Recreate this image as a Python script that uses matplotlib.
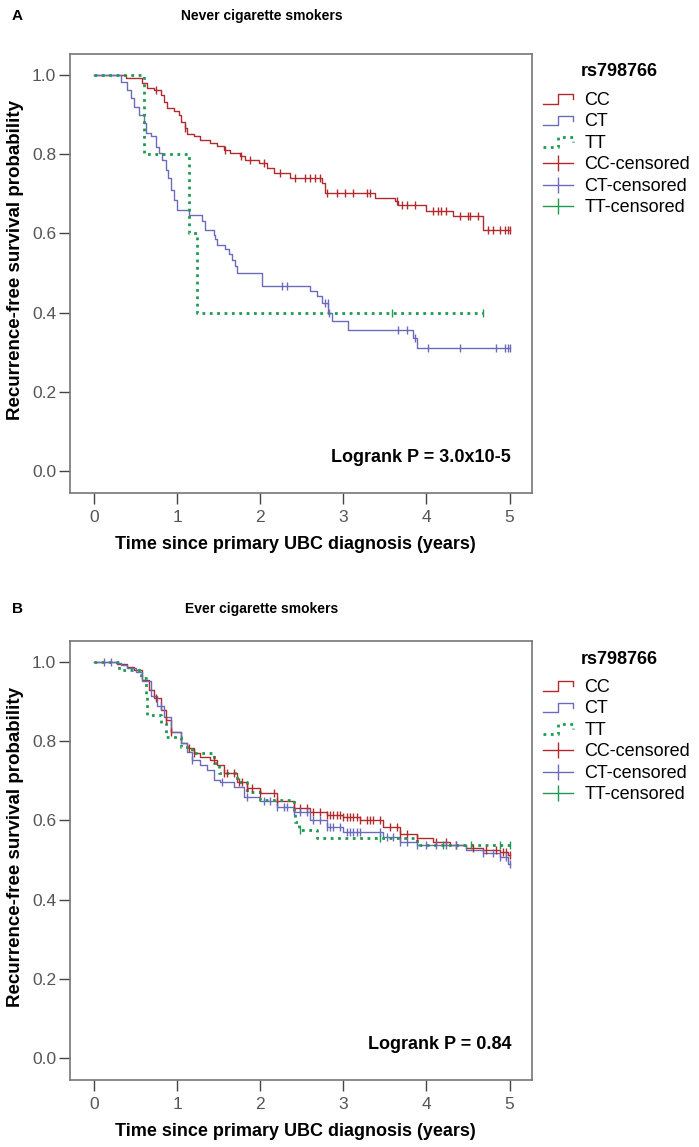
import numpy as np
import matplotlib.pyplot as plt
from matplotlib.lines import Line2D
from matplotlib.legend_handler import HandlerBase

plt.rcParams['font.family'] = ['Liberation Sans', 'DejaVu Sans']

# ---- data ----
groups = ['CC', 'CT', 'TT']
colors = ['#b02a2e', '#6b6bbb', '#1f9a50']

# panel A: never smokers  (drop times, survival after drop, censor times)
a_cc_t = [0.38, 0.58, 0.64, 0.72, 0.80, 0.84, 0.88, 0.96, 1.02, 1.05, 1.09, 1.12, 1.20, 1.28,
          1.40, 1.48, 1.56, 1.64, 1.76, 1.82, 1.98, 2.08, 2.16, 2.36, 2.74, 2.78, 3.38, 3.62,
          3.66, 4.00, 4.32, 4.68]
a_cc_s = [0.992, 0.979, 0.966, 0.962, 0.950, 0.933, 0.916, 0.908, 0.899, 0.882, 0.866, 0.851,
          0.845, 0.836, 0.828, 0.821, 0.811, 0.803, 0.796, 0.786, 0.777, 0.765, 0.752, 0.740,
          0.727, 0.702, 0.689, 0.681, 0.671, 0.658, 0.643, 0.609]
a_cc_c = [0.74, 1.09, 1.58, 1.77, 1.88, 2.04, 2.24, 2.42, 2.54, 2.60, 2.66, 2.72, 2.80, 2.92,
          3.02, 3.12, 3.28, 3.32, 3.64, 3.70, 3.76, 3.86, 4.08, 4.14, 4.18, 4.24, 4.40, 4.50,
          4.52, 4.62, 4.74, 4.80, 4.88, 4.94, 4.98, 5.00]
a_ct_t = [0.32, 0.40, 0.44, 0.48, 0.54, 0.60, 0.62, 0.68, 0.74, 0.78, 0.82, 0.86, 0.89, 0.92,
          0.96, 1.00, 1.14, 1.30, 1.33, 1.44, 1.46, 1.48, 1.58, 1.62, 1.66, 1.70, 1.72, 2.02,
          2.60, 2.68, 2.74, 2.82, 2.86, 3.06, 3.84, 3.88]
a_ct_s = [0.983, 0.962, 0.941, 0.920, 0.899, 0.878, 0.853, 0.845, 0.819, 0.803, 0.786, 0.761,
          0.740, 0.710, 0.685, 0.660, 0.647, 0.631, 0.610, 0.597, 0.585, 0.572, 0.560, 0.547,
          0.534, 0.517, 0.501, 0.467, 0.454, 0.441, 0.425, 0.400, 0.379, 0.357, 0.337, 0.312]
a_ct_c = [2.26, 2.32, 2.78, 2.81, 2.83, 3.66, 3.76, 3.86, 4.02, 4.40, 4.84, 4.94, 4.98, 5.00]
a_tt_t = [0.60, 1.14, 1.24]
a_tt_s = [0.80, 0.60, 0.40]
a_tt_c = [3.58, 4.68]

# panel B: ever smokers
b_cc_t = [0.28, 0.40, 0.48, 0.58, 0.66, 0.72, 0.80, 0.86, 0.92, 1.04, 1.12, 1.20, 1.28, 1.40,
          1.48, 1.56, 1.72, 1.84, 2.00, 2.20, 2.40, 2.60, 2.80, 3.00, 3.20, 3.48, 3.68, 3.88,
          4.08, 4.28, 4.48, 4.68, 4.88, 4.98]
b_cc_s = [0.996, 0.988, 0.980, 0.955, 0.929, 0.908, 0.879, 0.854, 0.824, 0.795, 0.782, 0.770,
          0.761, 0.753, 0.740, 0.719, 0.698, 0.681, 0.669, 0.648, 0.631, 0.622, 0.614, 0.608,
          0.601, 0.584, 0.567, 0.555, 0.546, 0.538, 0.530, 0.525, 0.521, 0.513]
b_cc_c = [0.74, 0.86, 0.92, 1.14, 1.20, 1.44, 1.56, 1.60, 1.68, 1.74, 1.78, 1.84, 1.90, 2.00,
          2.16, 2.20, 2.40, 2.48, 2.56, 2.64, 2.72, 2.80, 2.84, 2.88, 2.92, 2.96, 3.00, 3.04,
          3.08, 3.12, 3.16, 3.20, 3.28, 3.32, 3.36, 3.44, 3.56, 3.64, 3.68, 3.76, 3.88, 4.12,
          4.24, 4.36, 4.56, 4.72, 4.84, 4.92, 4.96, 5.00]
b_ct_t = [0.26, 0.32, 0.40, 0.50, 0.58, 0.68, 0.76, 0.84, 0.92, 1.04, 1.12, 1.18, 1.28, 1.36,
          1.44, 1.52, 1.68, 1.80, 2.00, 2.20, 2.40, 2.60, 2.80, 3.00, 3.48, 3.68, 3.88, 4.48,
          4.68, 4.88, 4.98]
b_ct_s = [0.998, 0.993, 0.984, 0.976, 0.951, 0.913, 0.888, 0.862, 0.824, 0.795, 0.774, 0.753,
          0.740, 0.728, 0.702, 0.696, 0.685, 0.660, 0.648, 0.635, 0.622, 0.601, 0.584, 0.572,
          0.559, 0.546, 0.538, 0.525, 0.517, 0.508, 0.491]
b_ct_c = [0.12, 0.20, 0.80, 1.18, 1.54, 1.84, 2.04, 2.12, 2.20, 2.28, 2.32, 2.40, 2.48, 2.56,
          2.64, 2.72, 2.80, 2.84, 2.88, 2.96, 3.04, 3.08, 3.12, 3.16, 3.20, 3.44, 3.52, 3.60,
          3.68, 3.76, 3.88, 4.00, 4.12, 4.24, 4.36, 4.68, 4.80, 4.88, 4.96, 5.00]
b_tt_t = [0.30, 0.56, 0.62, 0.64, 0.80, 0.86, 1.04, 1.18, 1.44, 1.50, 1.72, 1.84, 2.00, 2.40,
          2.42, 2.46, 2.68, 3.88]
b_tt_s = [0.980, 0.959, 0.913, 0.866, 0.845, 0.811, 0.786, 0.770, 0.744, 0.719, 0.698, 0.673,
          0.652, 0.618, 0.597, 0.576, 0.557, 0.538]
b_tt_c = [2.48, 3.44, 4.20, 4.54, 4.88, 5.00]

panels = [
    ('A', 'Never cigarette smokers', 'Logrank P = 3.0x10-5',
     [(a_cc_t, a_cc_s, a_cc_c), (a_ct_t, a_ct_s, a_ct_c), (a_tt_t, a_tt_s, a_tt_c)]),
    ('B', 'Ever cigarette smokers', 'Logrank P = 0.84',
     [(b_cc_t, b_cc_s, b_cc_c), (b_ct_t, b_ct_s, b_ct_c), (b_tt_t, b_tt_s, b_tt_c)]),
]


class StepHandler(HandlerBase):
    # little SPSS-style step glyph for the legend
    def create_artists(self, legend, orig_handle, xdescent, ydescent, width, height, fontsize, trans):
        x0 = -xdescent
        y0 = -ydescent
        xs = [x0, x0 + 0.5 * width, x0 + 0.5 * width, x0 + width, x0 + width]
        ys = [y0 + 0.1 * height, y0 + 0.1 * height, y0 + 0.85 * height, y0 + 0.85 * height, y0 + 0.45 * height]
        ln = Line2D(xs, ys, color=orig_handle.get_color(), lw=orig_handle.get_linewidth(),
                    linestyle=orig_handle.get_linestyle(), transform=trans)
        return [ln]


def step_at(times, surv, tc):
    t = np.concatenate([[0.0], times])
    s = np.concatenate([[1.0], surv])
    idx = np.searchsorted(t, tc, side='right') - 1
    return s[idx]


fig = plt.figure(figsize=(6.99, 11.47), dpi=100)
W, H = 699.0, 1147.0
ax_rects = [(70, 54, 532, 493), (70, 641, 532, 1080)]
title_y = [16, 609]
legtitle_y = [72, 659]

for k, (letter, title, ptxt, curves) in enumerate(panels):
    l, t, r, b = ax_rects[k]
    ax = fig.add_axes([l / W, 1 - b / H, (r - l) / W, (b - t) / H])
    handles = []
    for g, (tt, ss, cc) in enumerate(curves):
        end = max(max(cc), max(tt))
        xs = np.concatenate([[0.0], tt, [end]])
        ys = np.concatenate([[1.0], ss, [ss[-1]]])
        ls = ':' if groups[g] == 'TT' else '-'
        lw = 2.0 if groups[g] == 'TT' else 1.0
        ln, = ax.plot(xs, ys, drawstyle='steps-post', color=colors[g], lw=lw, linestyle=ls)
        handles.append(ln)
    for g, (tt, ss, cc) in enumerate(curves):
        cy = step_at(np.array(tt), np.array(ss), np.array(cc))
        ax.plot(cc, cy, linestyle='none', marker='|', markersize=6, mew=1.0, color=colors[g])

    ax.set_xlim(-0.29, 5.27)
    ax.set_ylim(-0.055, 1.053)
    ax.set_xticks([0, 1, 2, 3, 4, 5])
    ax.set_yticks([0.0, 0.2, 0.4, 0.6, 0.8, 1.0])
    ax.set_yticklabels(['0.0', '0.2', '0.4', '0.6', '0.8', '1.0'])
    ax.tick_params(direction='out', length=8, width=1.0, color='#444444',
                   labelsize=12.5, labelcolor='#555555', pad=2)
    ax.tick_params(axis='x', pad=4)
    for sp in ax.spines.values():
        sp.set_color('#777777')
        sp.set_linewidth(1.2)
    ax.set_xlabel('Time since primary UBC diagnosis (years)', fontsize=13, fontweight='bold')
    ax.xaxis.set_label_coords(0.487, -0.098)
    ax.set_ylabel('Recurrence-free survival probability', fontsize=13.5, fontweight='bold')
    ax.yaxis.set_label_coords(-0.10, 0.53)
    ax.text(0.955, 0.08, ptxt, transform=ax.transAxes, ha='right', va='center',
            fontsize=13, fontweight='bold')

    fig.text(12 / W, 1 - title_y[k] / H, letter, fontsize=11, fontweight='bold', va='center')
    fig.text(262 / W, 1 - title_y[k] / H, title, fontsize=10, fontweight='bold',
             ha='center', va='center')

    cens = [Line2D([], [], color=c, lw=1.0, marker='|', markersize=11, mew=1.0) for c in colors]
    leg = ax.legend(handles + cens, groups + [g + '-censored' for g in groups],
                    handler_map={h: StepHandler() for h in handles},
                    loc='upper left', bbox_to_anchor=(1.0, 0.9385), frameon=False,
                    fontsize=13, handlelength=1.65, handletextpad=0.65,
                    labelspacing=0.25, borderaxespad=0.2)
    fig.text(619 / W, 1 - legtitle_y[k] / H, 'rs798766', fontsize=13, fontweight='bold',
             ha='center', va='center')

fig.savefig('out.png', dpi=100)
